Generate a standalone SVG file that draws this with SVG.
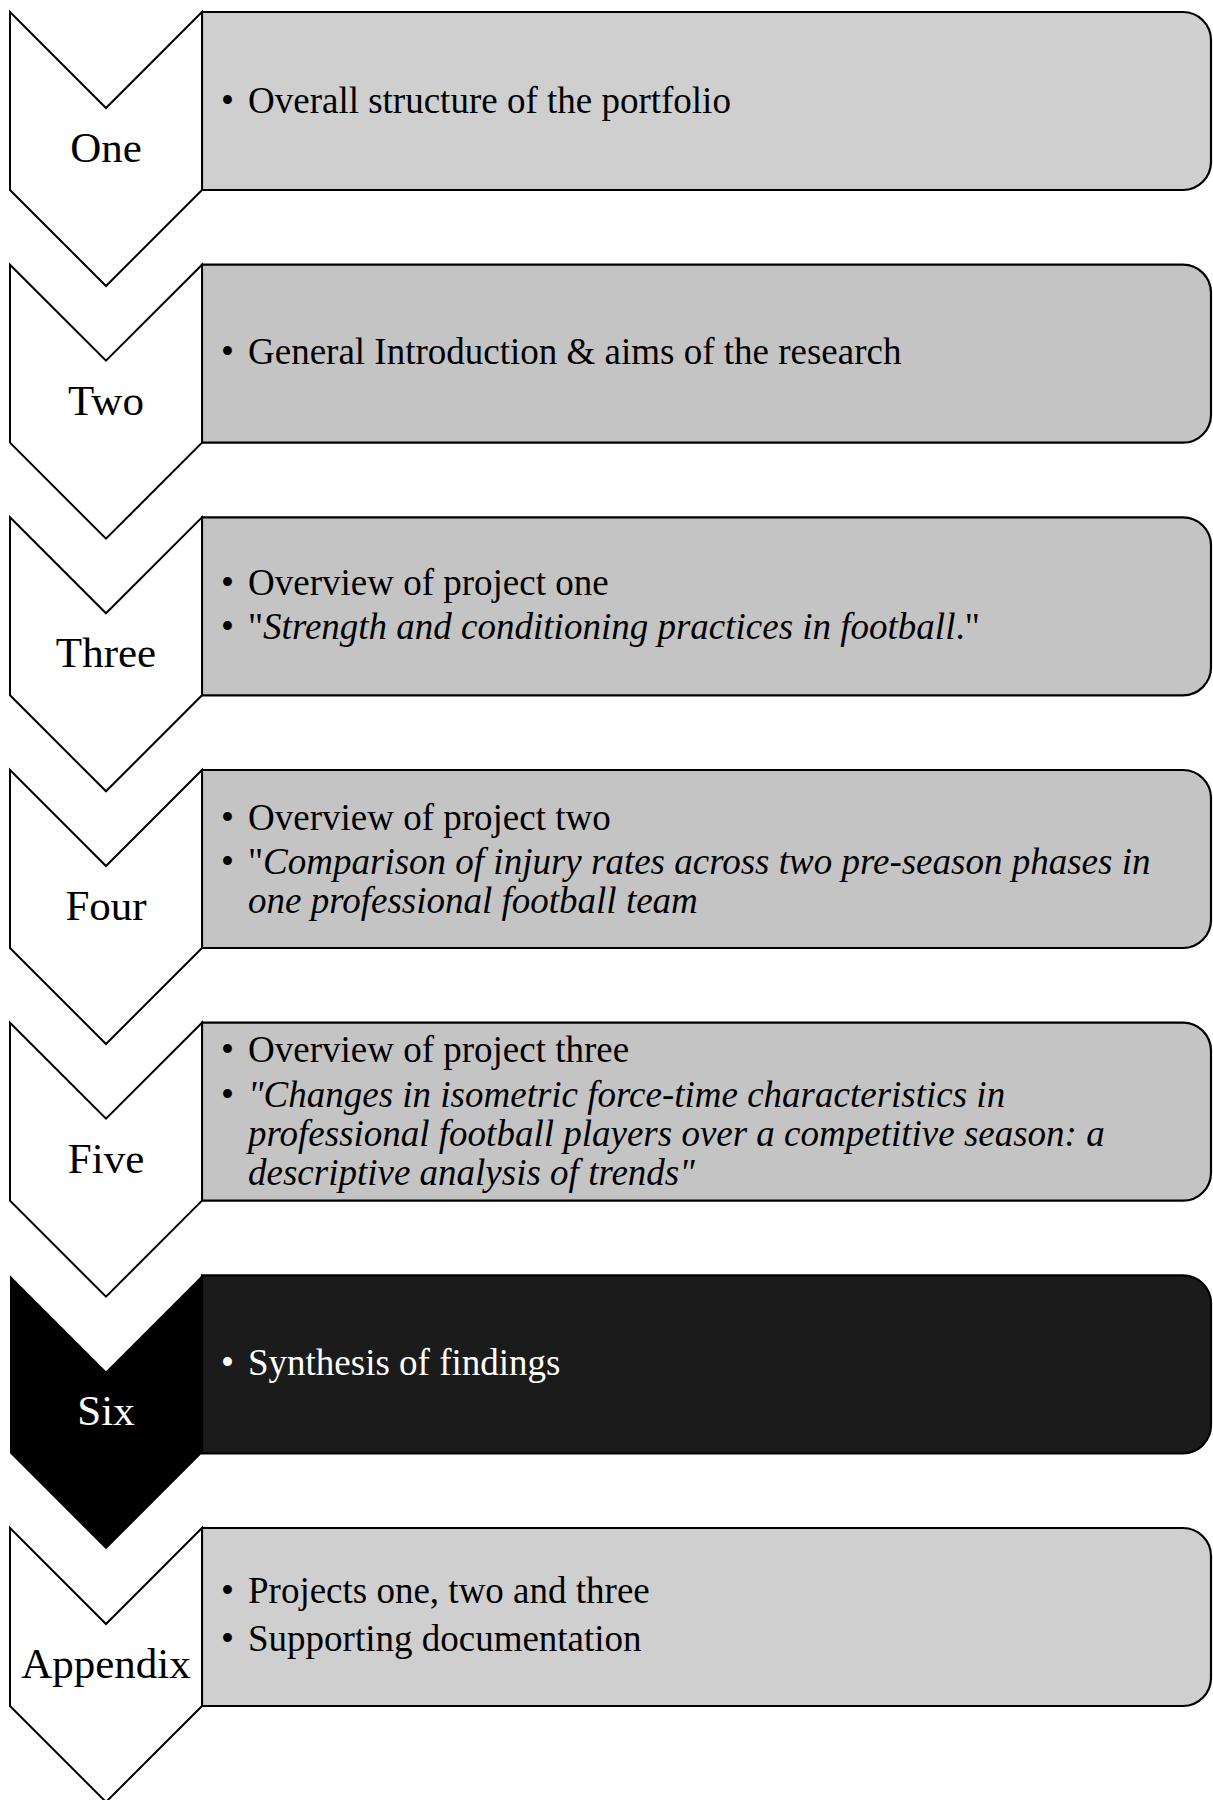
<svg xmlns="http://www.w3.org/2000/svg" width="1213" height="1800" viewBox="0 0 1213 1800">
<style>
.chev{fill:#ffffff;stroke:#000;stroke-width:2;stroke-linejoin:miter}
.chevd{fill:#000;stroke:none}
.box{stroke:#000;stroke-width:2.2}
.lbl{font-family:"Liberation Serif","Times New Roman",serif;font-size:43px;fill:#000;text-anchor:middle}
.txt{font-family:"Liberation Serif","Times New Roman",serif;font-size:37px;fill:#000}
.w{fill:#fff}
.i{font-style:italic}
</style>
<defs>
<path id="chevshape" d="M10,0 L106,96 L202,0 L202,178 L106,274 L10,178 Z"/>
<path id="boxshape" d="M202,0 H1183 A28,28 0 0 1 1211,28 V150 A28,28 0 0 1 1183,178 H202 Z"/>
</defs>
<g id="connectors"></g>
<g id="node-one" transform="translate(0,12)">
<use href="#boxshape" class="box" fill="#cfcfcf"/>
<use href="#chevshape" class="chev"/>
<text class="lbl" x="106" y="150">One</text>
<text class="txt" x="221" y="101">•</text>
<text class="txt" x="248" y="101">Overall structure of the portfolio</text>
</g>
<g id="node-two" transform="translate(0,264.7)">
<use href="#boxshape" class="box" fill="#c4c4c4"/>
<use href="#chevshape" class="chev"/>
<text class="lbl" x="106" y="150">Two</text>
<text class="txt" x="221" y="99">•</text>
<text class="txt" x="248" y="99">General Introduction &amp; aims of the research</text>
</g>
<g id="node-three" transform="translate(0,517.3)">
<use href="#boxshape" class="box" fill="#c4c4c4"/>
<use href="#chevshape" class="chev"/>
<text class="lbl" x="106" y="150">Three</text>
<text class="txt" x="221" y="78">•</text>
<text class="txt" x="248" y="78">Overview of project one</text>
<text class="txt" x="221" y="122">•</text>
<text class="txt" x="248" y="122">"<tspan class="i">Strength and conditioning practices in football</tspan>."</text>
</g>
<g id="node-four" transform="translate(0,770)">
<use href="#boxshape" class="box" fill="#c4c4c4"/>
<use href="#chevshape" class="chev"/>
<text class="lbl" x="106" y="150">Four</text>
<text class="txt" x="221" y="60">•</text>
<text class="txt" x="248" y="60">Overview of project two</text>
<text class="txt" x="221" y="104">•</text>
<text class="txt" x="248" y="104">"<tspan class="i">Comparison of injury rates across two pre-season phases in</tspan></text>
<text class="txt i" x="248" y="143">one professional football team</text>
</g>
<g id="node-five" transform="translate(0,1022.7)">
<use href="#boxshape" class="box" fill="#c4c4c4"/>
<use href="#chevshape" class="chev"/>
<text class="lbl" x="106" y="150">Five</text>
<text class="txt" x="221" y="39">•</text>
<text class="txt" x="248" y="39">Overview of project three</text>
<text class="txt" x="221" y="84">•</text>
<text class="txt i" x="248" y="84">"Changes in isometric force-time characteristics in</text>
<text class="txt i" x="248" y="123">professional football players over a competitive season: a</text>
<text class="txt i" x="248" y="162">descriptive analysis of trends"</text>
</g>
<g id="node-six" transform="translate(0,1275.3)">
<use href="#boxshape" class="box" fill="#1b1b1b"/>
<use href="#chevshape" class="chevd"/>
<text class="lbl w" x="106" y="150">Six</text>
<text class="txt w" x="221" y="100">•</text>
<text class="txt w" x="248" y="100">Synthesis of findings</text>
</g>
<g id="node-appendix" transform="translate(0,1528)">
<use href="#boxshape" class="box" fill="#cfcfcf"/>
<use href="#chevshape" class="chev"/>
<text class="lbl" x="106" y="150">Appendix</text>
<text class="txt" x="221" y="75">•</text>
<text class="txt" x="248" y="75">Projects one, two and three</text>
<text class="txt" x="221" y="123">•</text>
<text class="txt" x="248" y="123">Supporting documentation</text>
</g>
</svg>
